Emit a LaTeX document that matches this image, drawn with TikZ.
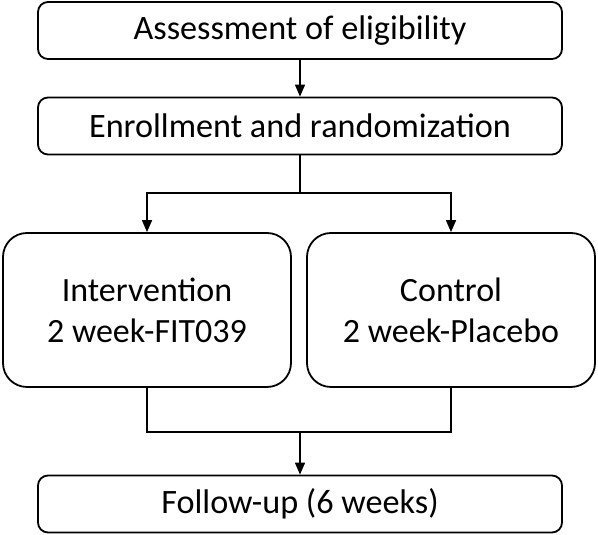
\documentclass[tikz,border=0pt]{standalone}
\usepackage{fontspec}
\setmainfont{Carlito}
\usetikzlibrary{arrows.meta}
\begin{document}
\begin{tikzpicture}[x=1pt,y=1pt,
  wide/.style={draw, line width=1.8pt, rounded corners=10pt, minimum width=524pt, minimum height=57pt, inner sep=0pt, font=\fontsize{34.2}{40}\selectfont},
  arm/.style={draw, line width=1.8pt, rounded corners=24pt, minimum width=288pt, minimum height=154pt, inner sep=0pt, align=center, font=\fontsize{34}{41}\selectfont},
  conn/.style={line width=1.6pt},
  arr/.style={line width=1.6pt, -{Triangle[length=12pt,width=10pt]}}]
\useasboundingbox (0,0) rectangle (598,535);
\node[wide] (b1) at (300,504.5) {Assessment of eligibility};
\node[wide] (b2) at (300,409) {Enrollment and randomization};
\node[arm] (b3) at (147,225) {Intervention\\2 week-FIT039};
\node[arm] (b4) at (451,225) {Control\\2 week-Placebo};
\node[wide] (b5) at (300,31) {Follow-up (6 weeks)};
\coordinate (split) at (300,342);
\coordinate (merge) at (300,103);
\draw[arr] (b1) -- (b2);
\draw[conn] (b2.south) -- (split);
\draw[arr] (split) -| (b3.north);
\draw[arr] (split) -| (b4.north);
\draw[conn] (b3.south) |- (merge);
\draw[conn] (b4.south) |- (merge);
\draw[arr] (merge) -- (b5.north);
\end{tikzpicture}
\end{document}
